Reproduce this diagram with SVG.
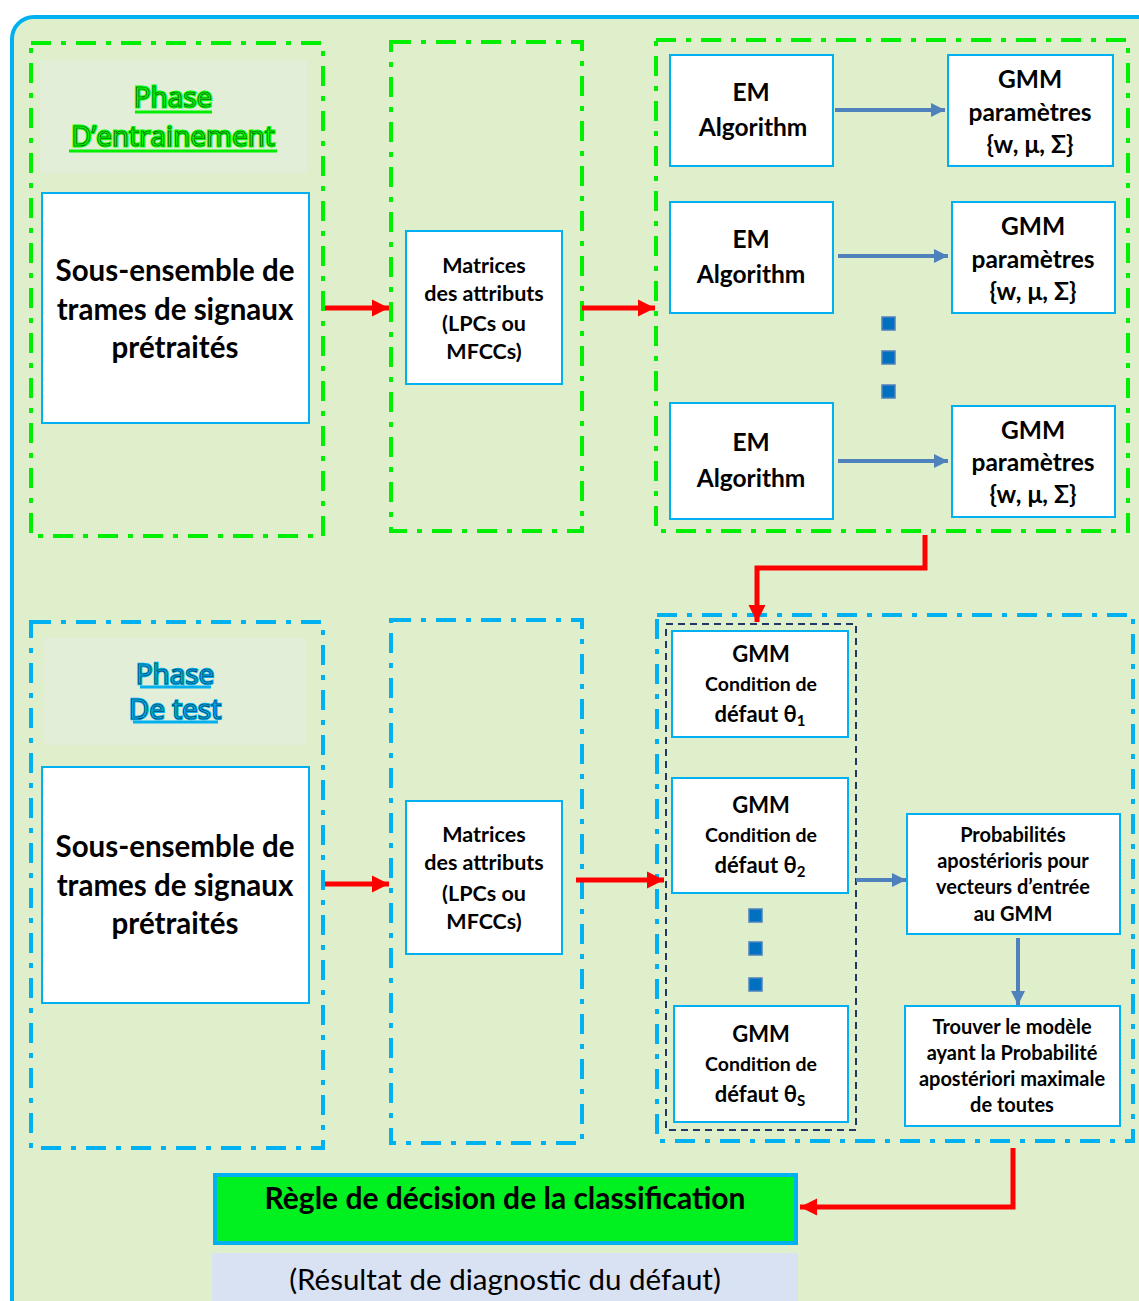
<svg xmlns="http://www.w3.org/2000/svg" width="1139" height="1301" viewBox="0 0 1139 1301">
  <style>
    .node{fill:#fff;stroke:#00b0f0;stroke-width:2}
    .dd-g{fill:none;stroke:#00ee00;stroke-width:4;stroke-dasharray:20 10 5 10}
    .dd-b{fill:none;stroke:#00b0f0;stroke-width:4;stroke-dasharray:20 10 5 10}
    .hdr{fill:#e2eed8}
    .t{font-family:Lato,"Liberation Sans",sans-serif;font-weight:bold;fill:#000;text-anchor:middle}
    .big{font-size:29.5px}
    .mid{font-size:24.5px}
    .gm{font-size:22px}
    .sm{font-size:21.5px}
    .cond{font-size:19.5px}
    .prob{font-size:20px}
    .red{fill:none;stroke:#ff0000;stroke-width:5}
    .blue{fill:none;stroke:#4f81bd;stroke-width:4}
    .dot{fill:#0070c0;stroke:#4f81bd;stroke-width:1.5}
    .ttl{font-family:"Open Sans",Lato,sans-serif;font-size:28px;text-anchor:middle}
  </style>
  <defs>
    <marker id="ar-red" markerWidth="4" markerHeight="4" refX="3.4" refY="2" orient="auto" markerUnits="strokeWidth">
      <path d="M0,0.3 L3.4,2 L0,3.7 Z" fill="#ff0000"/>
    </marker>
    <marker id="ar-blue" markerWidth="4" markerHeight="4" refX="3.6" refY="2" orient="auto" markerUnits="strokeWidth">
      <path d="M0,0.2 L3.6,2 L0,3.8 Z" fill="#4f81bd"/>
    </marker>
  </defs>

  <rect width="1139" height="1301" fill="#ffffff"/>
  <!-- outer frame -->
  <rect x="12" y="17" width="1160" height="1320" rx="22" fill="#dfeecb" stroke="#00b0f0" stroke-width="4"/>

  <!-- training phase -->
  <g id="train-left">
    <rect class="dd-g" x="31" y="43" width="292" height="493"/>
    <rect class="hdr" x="40" y="60" width="267" height="113"/>
    <text class="ttl" x="173" y="107" fill="#00ff00" stroke="#00ff00" stroke-width="3">Phase</text>
    <text class="ttl" x="173" y="107" fill="#00ff00" stroke="#1a3a1a" stroke-width="0.6">Phase</text>
    <text class="ttl" x="173" y="146" fill="#00ff00" stroke="#00ff00" stroke-width="3">D’entrainement</text>
    <text class="ttl" x="173" y="146" fill="#00ff00" stroke="#1a3a1a" stroke-width="0.6">D’entrainement</text>
    <line x1="135" y1="112" x2="212" y2="112" stroke="#00ee00" stroke-width="3"/>
    <line x1="69" y1="151" x2="277" y2="151" stroke="#00ee00" stroke-width="3"/>
  </g>
  <g id="train-signals">
    <rect class="node" x="42" y="193" width="267" height="230"/>
    <text class="t big" x="175" y="281">Sous-ensemble de</text>
    <text class="t big" x="175" y="320">trames de signaux</text>
    <text class="t big" x="175" y="358">prétraités</text>
  </g>
  <g id="train-features">
    <rect class="dd-g" x="391" y="42" width="191" height="489"/>
    <rect class="node" x="406" y="231" width="156" height="153"/>
    <text class="t sm" x="484" y="273">Matrices</text>
    <text class="t sm" x="484" y="301">des attributs</text>
    <text class="t sm" x="484" y="331">(LPCs ou</text>
    <text class="t sm" x="484" y="359">MFCCs)</text>
  </g>
  <g id="train-models">
    <rect class="dd-g" x="656" y="40" width="472" height="491"/>
  </g>
  <g id="em1">
    <rect class="node" x="670" y="55" width="163" height="111"/>
    <text class="t mid" x="751" y="101">EM</text>
    <text class="t mid" x="753" y="136">Algorithm</text>
  </g>
  <g id="em2">
    <rect class="node" x="670" y="202" width="163" height="111"/>
    <text class="t mid" x="751" y="248">EM</text>
    <text class="t mid" x="751" y="283">Algorithm</text>
  </g>
  <g id="em3">
    <rect class="node" x="670" y="403" width="163" height="116"/>
    <text class="t mid" x="751" y="451">EM</text>
    <text class="t mid" x="751" y="487">Algorithm</text>
  </g>
  <g id="gmm-par1">
    <rect class="node" x="948" y="55" width="165" height="111"/>
    <text class="t mid" x="1030" y="88">GMM</text>
    <text class="t mid" x="1030" y="121">paramètres</text>
    <text class="t mid" x="1030" y="153">{w, μ, Σ}</text>
  </g>
  <g id="gmm-par2">
    <rect class="node" x="952" y="202" width="163" height="111"/>
    <text class="t mid" x="1033" y="235">GMM</text>
    <text class="t mid" x="1033" y="268">paramètres</text>
    <text class="t mid" x="1033" y="300">{w, μ, Σ}</text>
  </g>
  <g id="gmm-par3">
    <rect class="node" x="952" y="406" width="163" height="111"/>
    <text class="t mid" x="1033" y="439">GMM</text>
    <text class="t mid" x="1033" y="471">paramètres</text>
    <text class="t mid" x="1033" y="503">{w, μ, Σ}</text>
  </g>
  <g id="train-dots">
    <rect class="dot" x="882" y="317" width="13" height="13"/>
    <rect class="dot" x="882" y="351" width="13" height="13"/>
    <rect class="dot" x="882" y="385" width="13" height="13"/>
  </g>

  <!-- test phase -->
  <g id="test-left">
    <rect class="dd-b" x="31" y="622" width="292" height="526"/>
    <rect class="hdr" x="44" y="638" width="262" height="107"/>
    <text class="ttl" x="175" y="684" fill="#00b0f0" stroke="#00b0f0" stroke-width="2.5" font-size="26">Phase</text>
    <text class="ttl" x="175" y="684" fill="#00b0f0" stroke="#0a2a3a" stroke-width="0.6" font-size="26">Phase</text>
    <text class="ttl" x="175" y="719" fill="#00b0f0" stroke="#00b0f0" stroke-width="2.5" font-size="26">De test</text>
    <text class="ttl" x="175" y="719" fill="#00b0f0" stroke="#0a2a3a" stroke-width="0.6" font-size="26">De test</text>
    <line x1="140" y1="687" x2="211" y2="687" stroke="#00b0f0" stroke-width="3"/>
    <line x1="133" y1="722" x2="218" y2="722" stroke="#00b0f0" stroke-width="3"/>
  </g>
  <g id="test-signals">
    <rect class="node" x="42" y="767" width="267" height="236"/>
    <text class="t big" x="175" y="857">Sous-ensemble de</text>
    <text class="t big" x="175" y="896">trames de signaux</text>
    <text class="t big" x="175" y="934">prétraités</text>
  </g>
  <g id="test-features">
    <rect class="dd-b" x="391" y="620" width="191" height="523"/>
    <rect class="node" x="406" y="801" width="156" height="153"/>
    <text class="t sm" x="484" y="842">Matrices</text>
    <text class="t sm" x="484" y="870">des attributs</text>
    <text class="t sm" x="484" y="901">(LPCs ou</text>
    <text class="t sm" x="484" y="929">MFCCs)</text>
  </g>
  <g id="test-models">
    <rect class="dd-b" x="657" y="615" width="476" height="526"/>
    <rect x="666" y="624" width="190" height="506" fill="none" stroke="#1f3864" stroke-width="2" stroke-dasharray="7 5"/>
  </g>
  <g id="gmm-c1">
    <rect class="node" x="672" y="631" width="176" height="106"/>
    <text class="t gm" x="761" y="662">GMM</text>
    <text class="t cond" x="761" y="691">Condition de</text>
    <text class="t" font-size="22" x="760" y="722">défaut θ<tspan font-size="15" dy="4">1</tspan></text>
  </g>
  <g id="gmm-c2">
    <rect class="node" x="672" y="778" width="176" height="115"/>
    <text class="t gm" x="761" y="813">GMM</text>
    <text class="t cond" x="761" y="842">Condition de</text>
    <text class="t" font-size="22" x="760" y="873">défaut θ<tspan font-size="15" dy="4">2</tspan></text>
  </g>
  <g id="gmm-cs">
    <rect class="node" x="674" y="1006" width="174" height="116"/>
    <text class="t gm" x="761" y="1042">GMM</text>
    <text class="t cond" x="761" y="1071">Condition de</text>
    <text class="t" font-size="22" x="760" y="1102">défaut θ<tspan font-size="15" dy="4">S</tspan></text>
  </g>
  <g id="test-dots">
    <rect class="dot" x="749" y="909" width="13" height="13"/>
    <rect class="dot" x="749" y="942" width="13" height="13"/>
    <rect class="dot" x="749" y="978" width="13" height="13"/>
  </g>
  <g id="posterior">
    <rect class="node" x="907" y="814" width="213" height="120"/>
    <text class="t prob" x="1013" y="842">Probabilités</text>
    <text class="t prob" x="1013" y="868">apostérioris pour</text>
    <text class="t prob" x="1013" y="894">vecteurs d’entrée</text>
    <text class="t prob" x="1013" y="921">au GMM</text>
  </g>
  <g id="argmax">
    <rect class="node" x="905" y="1006" width="215" height="120"/>
    <text class="t prob" x="1012" y="1034">Trouver le modèle</text>
    <text class="t prob" x="1012" y="1060">ayant la Probabilité</text>
    <text class="t prob" x="1012" y="1086">apostériori maximale</text>
    <text class="t prob" x="1012" y="1112">de toutes</text>
  </g>
  <g id="decision">
    <rect x="215" y="1175" width="581" height="68" fill="#00f020" stroke="#00b0f0" stroke-width="4"/>
    <text class="t" font-size="30" x="505" y="1209">Règle de décision de la classification</text>
  </g>
  <g id="result">
    <rect x="212" y="1253" width="586" height="50" fill="#d9e2f3"/>
    <text x="505" y="1290" font-family="Lato,'Liberation Sans',sans-serif" font-size="29.5" text-anchor="middle" fill="#000">(Résultat de diagnostic du défaut)</text>
  </g>

  <!-- connectors -->
  <g id="connectors">
    <line class="red" x1="325" y1="308" x2="389" y2="308" marker-end="url(#ar-red)"/>
    <line class="red" x1="582" y1="308" x2="655" y2="308" marker-end="url(#ar-red)"/>
    <polyline class="red" points="925,535 925,568 757,568 757,622" marker-end="url(#ar-red)"/>
    <line class="red" x1="325" y1="884" x2="389" y2="884" marker-end="url(#ar-red)"/>
    <line class="red" x1="576" y1="880" x2="664" y2="880" marker-end="url(#ar-red)"/>
    <polyline class="red" points="1013,1148 1013,1207 800,1207" marker-end="url(#ar-red)"/>
    <line class="blue" x1="835" y1="110" x2="945" y2="110" marker-end="url(#ar-blue)"/>
    <line class="blue" x1="838" y1="256" x2="948" y2="256" marker-end="url(#ar-blue)"/>
    <line class="blue" x1="838" y1="461" x2="948" y2="461" marker-end="url(#ar-blue)"/>
    <line class="blue" x1="856" y1="880" x2="906" y2="880" marker-end="url(#ar-blue)"/>
    <line class="blue" x1="1018" y1="938" x2="1018" y2="1005" marker-end="url(#ar-blue)"/>
  </g>
</svg>
